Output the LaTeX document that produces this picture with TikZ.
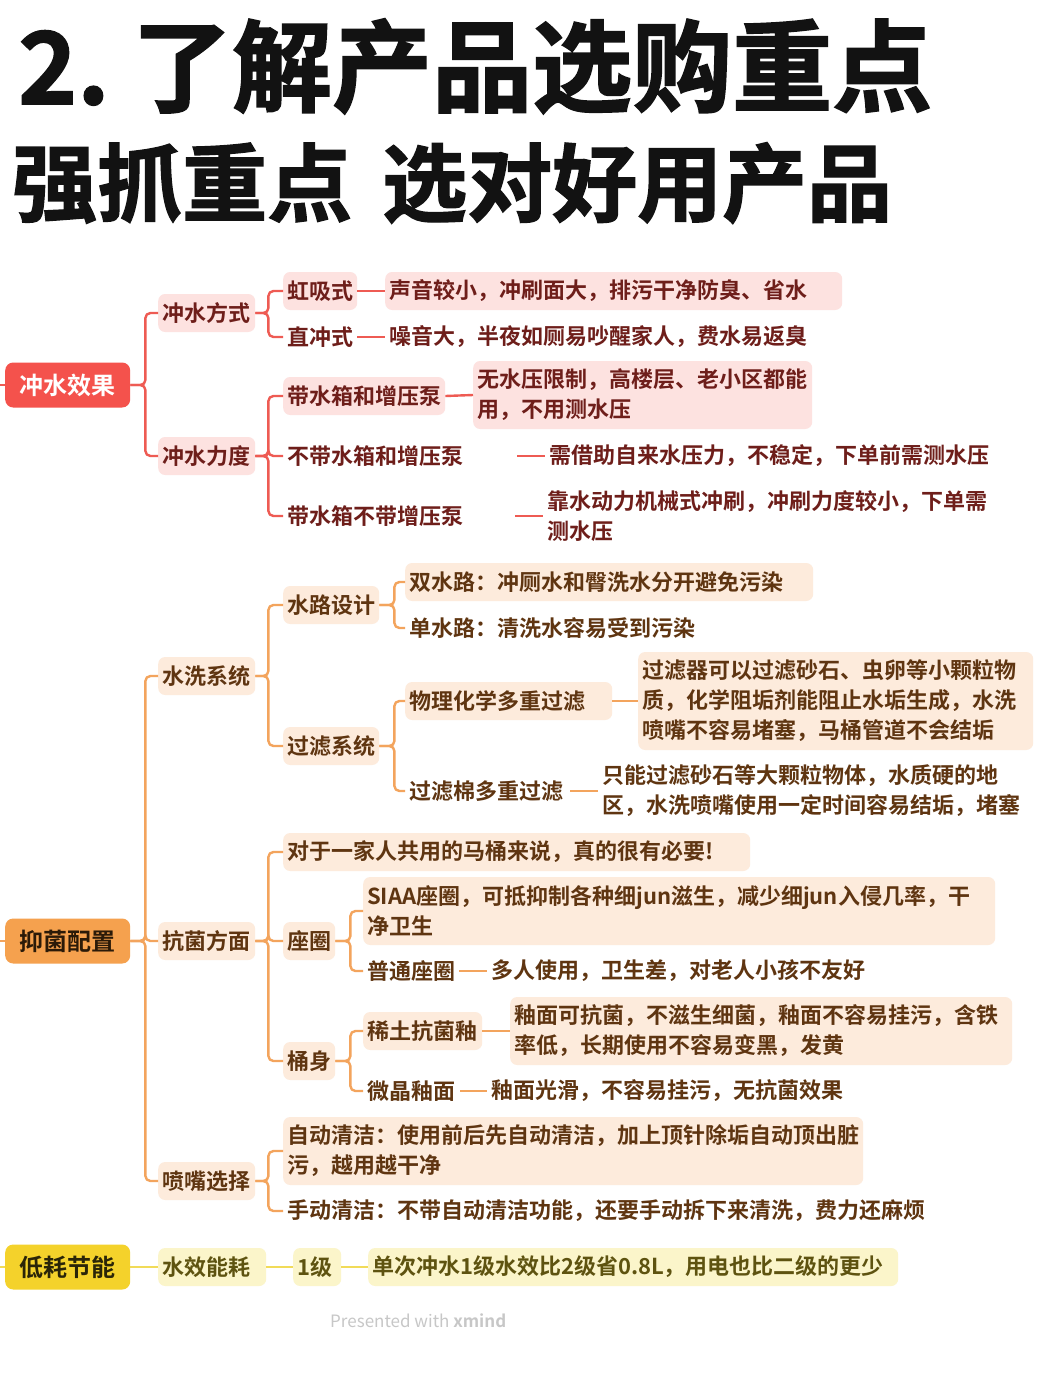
\documentclass[tikz,border=0pt]{standalone}
\usepackage{fontspec}
\setmainfont{Noto Sans CJK SC}[BoldFont={* Bold}]
\newfontfamily\mmtitlefont{Noto Sans CJK SC}[BoldFont={* Bold}, BoldFeatures={FakeBold=1.6}]
\definecolor{rR}{HTML}{F4524C}
\definecolor{rL}{HTML}{FDE2E0}
\definecolor{rT}{HTML}{6E1E1A}
\definecolor{rC}{HTML}{EE5B53}
\definecolor{oR}{HTML}{F5A14E}
\definecolor{oL}{HTML}{FDEBDC}
\definecolor{oT}{HTML}{5F3511}
\definecolor{oC}{HTML}{F3A45D}
\definecolor{oRT}{HTML}{2B1A08}
\definecolor{yR}{HTML}{F4D22B}
\definecolor{yL}{HTML}{FBF5CA}
\definecolor{yT}{HTML}{5E5310}
\definecolor{yC}{HTML}{F1DB58}
\definecolor{yRT}{HTML}{2A2508}
\newcommand\mmnodefont{\fontsize{22}{30}\selectfont\bfseries}
\newcommand\mmrootfont{\fontsize{24}{30}\selectfont\bfseries}
\tikzset{
  nd/.style={anchor=west, inner xsep=4pt, inner ysep=1pt, minimum height=38pt, rounded corners=7pt, font=\mmnodefont, align=left},
  rb/.style={nd, fill=rL, text=rT}, rt/.style={nd, text=rT},
  ob/.style={nd, fill=oL, text=oT}, ot/.style={nd, text=oT},
  yb/.style={nd, fill=yL, text=yT},
  rootnd/.style={anchor=west, minimum width=125pt, minimum height=45pt, inner sep=0pt, rounded corners=8pt, font=\mmrootfont, align=center},
  rc/.style={draw=rC, line width=2.4pt, rounded corners=5pt},
  oc/.style={draw=oC, line width=2.4pt, rounded corners=5pt},
  yc/.style={draw=yC, line width=2.4pt, rounded corners=5pt},
  ttl/.style={inner sep=0pt, text=black!93}
}
\begin{document}
\begin{tikzpicture}[x=1pt,y=-1pt]
\useasboundingbox (0,0) rectangle (1036,1381);
\fill[white] (0,0) rectangle (1036,1381);
% titles
\node[ttl, anchor=base west, font=\mmtitlefont\fontsize{100}{100}\selectfont\bfseries] (t1a) at (18,104) {2.};
\node[ttl, anchor=base west, font=\mmtitlefont\fontsize{100}{100}\selectfont\bfseries] (t1b) at (132,104) {了解产品选购重点};
\node[ttl, anchor=base west, font=\mmtitlefont\fontsize{85}{85}\selectfont\bfseries] (t2a) at (12,215) {强抓重点};
\node[ttl, anchor=base west, font=\mmtitlefont\fontsize{85}{85}\selectfont\bfseries] (t2b) at (382,215) {选对好用产品};

% ===== red branch =====
\coordinate (rs) at (0,385);
\node[rootnd, fill=rR, text=white] (R0) at (5,385) {冲水效果};
\node[rb, text width=89pt] (R1) at (158,313) {冲水方式};
\node[rb, text width=89pt] (R2) at (158,456) {冲水力度};
\node[rb, text width=66pt] (R11) at (283,291) {虹吸式};
\node[rt, text width=66pt] (R12) at (283,337) {直冲式};
\node[rb, text width=449pt] (R111) at (385,291) {声音较小，冲刷面大，排污干净防臭、省水};
\node[rt] (R121) at (385,337) {噪音大，半夜如厕易吵醒家人，费水易返臭};
\node[rb, text width=154pt] (R21) at (283,396) {带水箱和增压泵};
\node[rt, text width=226pt] (R22) at (283,456) {不带水箱和增压泵};
\node[rt, text width=224pt] (R23) at (283,516) {带水箱不带增压泵};
\node[rb, text width=331pt, minimum height=68pt] (R211) at (473,395) {无水压限制，高楼层、老小区都能\\用，不用测水压};
\node[rt] (R221) at (545,456) {需借助自来水压力，不稳定，下单前需测水压};
\node[rt, minimum height=68pt] (R231) at (543,516) {靠水动力机械式冲刷，冲刷力度较小，下单需\\测水压};

\draw[rc] (rs) -- (R0.west);
\draw[rc] (R0.east) -- ++(15,0) |- (R1.west);
\draw[rc] (R0.east) -- ++(15,0) |- (R2.west);
\draw[rc] (R1.east) -- ++(13,0) |- (R11.west);
\draw[rc] (R1.east) -- ++(13,0) |- (R12.west);
\draw[rc] (R11.east) -- (R111.west);
\draw[rc] (R12.east) -- (R121.west);
\draw[rc] (R2.east) -- ++(13,0) |- (R21.west);
\draw[rc] (R2.east) -- ++(13,0) |- (R22.west);
\draw[rc] (R2.east) -- ++(13,0) |- (R23.west);
\draw[rc] (R21.east) -- (R211.west);
\draw[rc] (R22.east) -- (R221.west);
\draw[rc] (R23.east) -- (R231.west);

% ===== orange branch =====
\coordinate (os) at (0,941);
\node[rootnd, fill=oR, text=oRT] (O0) at (5,941) {抑菌配置};
\node[ob, text width=89pt] (O1) at (158,676) {水洗系统};
\node[ob, text width=89pt] (O2) at (158,941) {抗菌方面};
\node[ob, text width=89pt] (O3) at (158,1181) {喷嘴选择};
\node[ob, text width=88pt] (O11) at (283,605) {水路设计};
\node[ob, text width=88pt] (O12) at (283,746) {过滤系统};
\node[ob, text width=400pt] (O111) at (405,582) {双水路：冲厕水和臀洗水分开避免污染};
\node[ot] (O112) at (405,628) {单水路：清洗水容易受到污染};
\node[ob, text width=199pt] (O121) at (405,701) {物理化学多重过滤};
\node[ot, text width=157pt] (O122) at (405,791) {过滤棉多重过滤};
\node[ob, text width=387pt, minimum height=98pt] (O1211) at (638,701) {过滤器可以过滤砂石、虫卵等小颗粒物\\质，化学阻垢剂能阻止水垢生成，水洗\\喷嘴不容易堵塞，马桶管道不会结垢};
\node[ot, minimum height=68pt] (O1221) at (598,791) {只能过滤砂石等大颗粒物体，水质硬的地\\区，水洗喷嘴使用一定时间容易结垢，堵塞};
\node[ob, text width=459pt] (O21) at (283,852) {对于一家人共用的马桶来说，真的很有必要!};
\node[ob, text width=44pt] (O22) at (283,941) {座圈};
\node[ob, text width=44pt] (O23) at (283,1061) {桶身};
\node[ob, text width=624pt, minimum height=68pt] (O221) at (363,911) {SIAA座圈，可抵抑制各种细jun滋生，减少细jun入侵几率，干\\净卫生};
\node[ot, text width=88pt] (O222) at (363,971) {普通座圈};
\node[ot] (O2221) at (487,971) {多人使用，卫生差，对老人小孩不友好};
\node[ob, text width=111pt] (O231) at (363,1031) {稀土抗菌釉};
\node[ot, text width=89pt] (O232) at (363,1091) {微晶釉面};
\node[ob, text width=494pt, minimum height=68pt] (O2311) at (510,1031) {釉面可抗菌，不滋生细菌，釉面不容易挂污，含铁\\率低，长期使用不容易变黑，发黄};
\node[ot] (O2321) at (487,1091) {釉面光滑，不容易挂污，无抗菌效果};
\node[ob, text width=572pt, minimum height=68pt] (O31) at (283,1151) {自动清洁：使用前后先自动清洁，加上顶针除垢自动顶出脏\\污，越用越干净};
\node[ot] (O32) at (283,1211) {手动清洁：不带自动清洁功能，还要手动拆下来清洗，费力还麻烦};

\draw[oc] (os) -- (O0.west);
\draw[oc] (O0.east) -- ++(15,0) |- (O1.west);
\draw[oc] (O0.east) -- ++(15,0) |- (O2.west);
\draw[oc] (O0.east) -- ++(15,0) |- (O3.west);
\draw[oc] (O1.east) -- ++(13,0) |- (O11.west);
\draw[oc] (O1.east) -- ++(13,0) |- (O12.west);
\draw[oc] (O11.east) -- ++(15,0) |- (O111.west);
\draw[oc] (O11.east) -- ++(15,0) |- (O112.west);
\draw[oc] (O12.east) -- ++(15,0) |- (O121.west);
\draw[oc] (O12.east) -- ++(15,0) |- (O122.west);
\draw[oc] (O121.east) -- (O1211.west);
\draw[oc] (O122.east) -- (O1221.west);
\draw[oc] (O2.east) -- ++(13,0) |- (O21.west);
\draw[oc] (O2.east) -- ++(13,0) |- (O22.west);
\draw[oc] (O2.east) -- ++(13,0) |- (O23.west);
\draw[oc] (O22.east) -- ++(15,0) |- (O221.west);
\draw[oc] (O22.east) -- ++(15,0) |- (O222.west);
\draw[oc] (O222.east) -- (O2221.west);
\draw[oc] (O23.east) -- ++(15,0) |- (O231.west);
\draw[oc] (O23.east) -- ++(15,0) |- (O232.west);
\draw[oc] (O231.east) -- (O2311.west);
\draw[oc] (O232.east) -- (O2321.west);
\draw[oc] (O3.east) -- ++(13,0) |- (O31.west);
\draw[oc] (O3.east) -- ++(13,0) |- (O32.west);

% ===== yellow branch =====
\coordinate (ys) at (0,1267);
\node[rootnd, fill=yR, text=yRT] (Y0) at (5,1267) {低耗节能};
\node[yb, text width=100pt] (Y1) at (158,1267) {水效能耗};
\node[yb, text width=40pt] (Y2) at (293,1267) {1级};
\node[yb, text width=522pt] (Y3) at (368,1267) {单次冲水1级水效比2级省0.8L，用电也比二级的更少};
\draw[yc] (ys) -- (Y0.west);
\draw[yc] (Y0.east) -- (Y1.west);
\draw[yc] (Y1.east) -- (Y2.west);
\draw[yc] (Y2.east) -- (Y3.west);

% footer
\node[anchor=west, inner sep=0pt, text=black!22, font=\fontsize{17}{20}\selectfont] (ft) at (330,1321) {Presented with \textbf{xmind}};
\end{tikzpicture}
\end{document}
